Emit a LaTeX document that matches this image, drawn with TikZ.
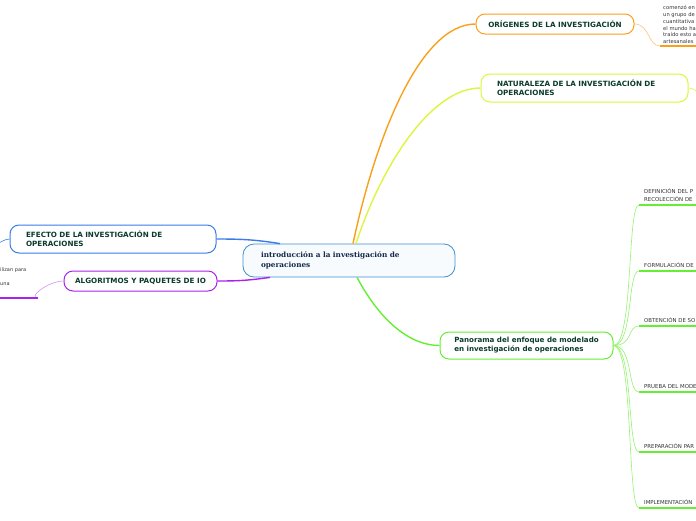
\documentclass[tikz,border=0pt]{standalone}
\usepackage{fontspec}
\setmainfont{DejaVu Sans}
\newfontfamily\centralfont{DejaVu Serif}
\usepackage{xcolor}
\usetikzlibrary{positioning, calc}
\definecolor{titlegreen}{HTML}{0B3B2C}
\definecolor{centralnavy}{HTML}{15284A}
\definecolor{centralblue}{HTML}{3D8FD1}
\definecolor{oriorange}{HTML}{F9A01B}
\definecolor{natyellow}{HTML}{DDF53C}
\definecolor{efblue}{HTML}{3A7BE8}
\definecolor{algpurple}{HTML}{AA22EE}
\definecolor{pangreen}{HTML}{66EE33}
\definecolor{notegray}{HTML}{333333}
\tikzset{
    central/.style={draw=centralblue, fill=centralblue!4, rounded corners=11pt, line width=0.8pt, align=left, inner xsep=18pt, inner ysep=0pt, minimum height=33pt, text=centralnavy, font=\centralfont\fontsize{7.3}{10.5}\selectfont\bfseries},
    topic/.style={draw, fill=white, rounded corners=9pt, line width=1pt, align=left, inner ysep=0pt, text=titlegreen, font=\fontsize{7.2}{9}\selectfont\bfseries},
    branch/.style={line width=1.4pt},
    twig/.style={line width=0.6pt},
    note/.style={font=\fontsize{5.2}{6.8}\selectfont, text=notegray, align=left, inner xsep=3pt, inner ysep=2pt},
    sub/.style={anchor=south west, font=\fontsize{5.4}{8}\selectfont, text=notegray, align=left, text width=60pt, inner xsep=5pt, inner ysep=3pt},
    subline/.style={draw=pangreen, line width=1.6pt}
}

\begin{document}
\begin{tikzpicture}[x=1pt, y=-1pt]
\useasboundingbox (0,0) rectangle (696,520);
\clip (0,0) rectangle (696,520);

% Central topic
\node[central, text width=176pt] (cen) at (349,260.5) {introducción a la investigación de\\operaciones};

% Main topics
\node[topic, draw=oriorange, minimum width=158pt, minimum height=20pt, inner xsep=0pt] (ori) at (555,24) {ORÍGENES DE LA INVESTIGACIÓN};
\node[topic, draw=natyellow, minimum width=207pt, minimum height=28pt, text width=175pt, inner xsep=16pt] (nat) at (584.5,88) {NATURALEZA DE LA INVESTIGACIÓN DE\\OPERACIONES};
\node[topic, draw=efblue, minimum width=206pt, minimum height=28pt, text width=174pt, inner xsep=16pt] (efe) at (113,239) {EFECTO DE LA INVESTIGACIÓN DE\\OPERACIONES};
\node[topic, draw=algpurple, minimum width=153pt, minimum height=20pt, inner xsep=0pt] (alg) at (140.5,281) {ALGORITMOS Y PAQUETES DE IO};
\node[topic, draw=pangreen, minimum width=173pt, minimum height=27pt, inner xsep=0pt, font=\fontsize{7.1}{9}\selectfont\bfseries] (pan) at (526.5,345.5) {Panorama del enfoque de modelado\\en investigación de operaciones};

% Branches from the central topic
\draw[branch, oriorange] ([xshift=4pt]cen.north) .. controls +(22,-104) and +(-56,0) .. (ori.west);
\draw[branch, natyellow] ([xshift=7pt]cen.north) .. controls +(24,-74) and +(-51,0) .. (nat.west);
\draw[branch, efblue] ([xshift=-69pt]cen.north) .. controls +(-25,-4) and +(25,0) .. (efe.east);
\draw[branch, algpurple] ([xshift=-79pt]cen.south) .. controls +(-22,3) and +(22,0) .. (alg.east);
\draw[branch, pangreen] ([xshift=8pt]cen.south) .. controls +(23,43) and +(-30,0) .. (pan.west);

% Notes of the main topics
\node[note, anchor=south west] (orinote) at (660,46) {comenzó en\\un grupo de\\cuantitativa\\el mundo ha\\traído esto a\\artesanales};
\draw[twig, oriorange!60] (ori.east) .. controls +(15,0) and +(-12,0) .. (orinote.south west);
\draw[branch, oriorange] (orinote.south west) -- (orinote.south east);

\coordinate (natnote) at (706,96);
\draw[twig, natyellow] (nat.east) .. controls +(8,0) and +(-8,0) .. (natnote);

\coordinate (efenote) at (-6,244);
\draw[twig, efblue] (efe.west) .. controls +(-6,0) and +(6,0) .. (efenote);

\node[note, anchor=south west, inner xsep=0pt, inner ysep=12pt, text width=38pt, font=\fontsize{5}{14}\selectfont] (algnote) at (0,298) {ilizan para\\una};
\draw[twig, algpurple!50] (alg.west) .. controls +(-15,0) and +(-12,0) .. (algnote.south east);
\draw[branch, algpurple] (algnote.south west) -- (algnote.south east);

% Steps of the modelling approach
\node[sub] (s1) at (639,205) {DEFINICIÓN DEL P\\RECOLECCIÓN DE};
\node[sub] (s2) at (639,271) {FORMULACIÓN DE};
\node[sub] (s3) at (639,326) {OBTENCIÓN DE SO};
\node[sub] (s4) at (639,392) {PRUEBA DEL MODE};
\node[sub] (s5) at (639,452) {PREPARACIÓN PAR};
\node[sub] (s6) at (639,508) {IMPLEMENTACIÓN};

\foreach \s in {s1,s2,s3,s4,s5,s6} {
    \draw[twig, pangreen!70] (pan.east) .. controls +(20,0) and +(-12,0) .. (\s.south west);
    \draw[subline] (\s.south west) -- (\s.south east);
}
\end{tikzpicture}
\end{document}
